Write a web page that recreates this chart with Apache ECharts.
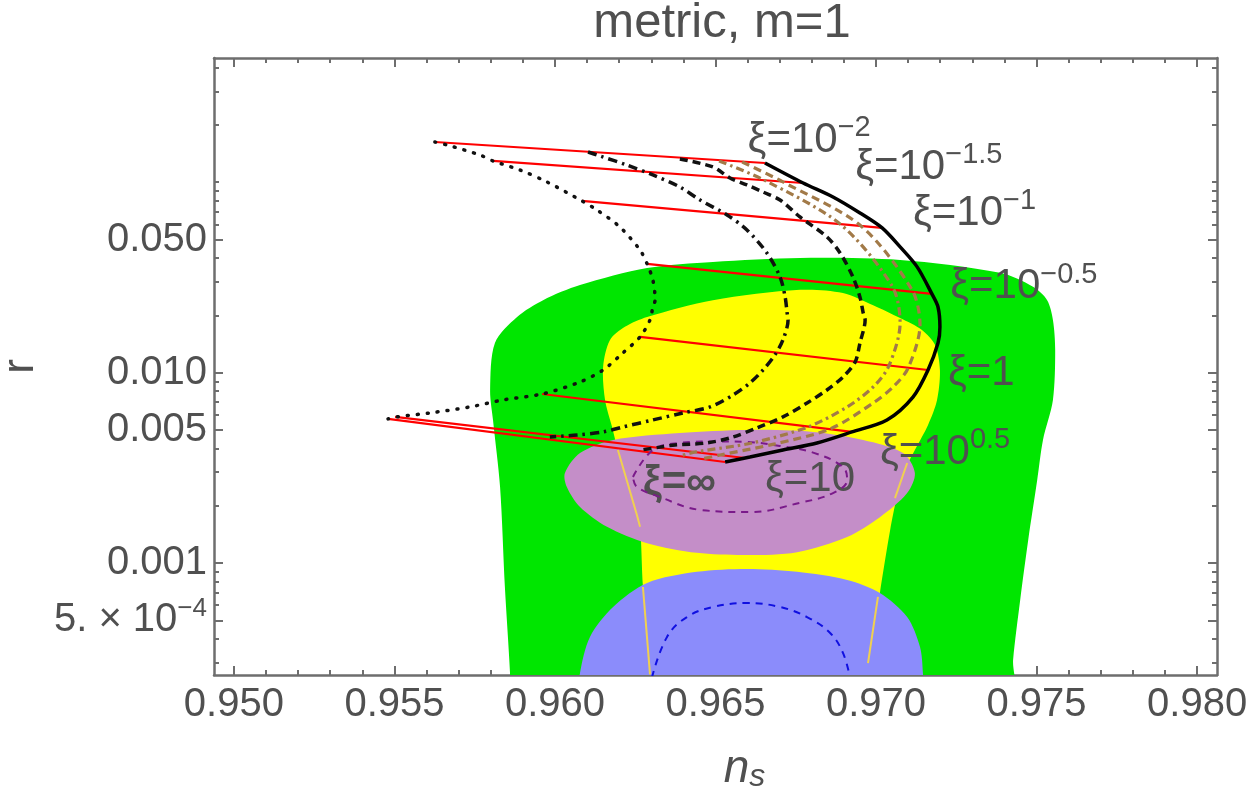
<!DOCTYPE html>
<html><head><meta charset="utf-8">
<script src="https://cdn.jsdelivr.net/npm/echarts@6/dist/echarts.min.js"></script>
<style>html,body{margin:0;padding:0;background:#fff}#chart{width:1249px;height:803px}</style>
</head><body><div id="chart"></div>
<script>
// ---------- axis ranges & ticks ----------
const X_MIN = 0.94938, X_MAX = 0.98062;
const Y_MIN = 2.58e-4, Y_MAX = 0.449;
const xTickMajor = [0.950, 0.955, 0.960, 0.965, 0.970, 0.975, 0.980];
const xTickMinor = [0.951,0.952,0.953,0.954,0.956,0.957,0.958,0.959,0.961,0.962,0.963,0.964,0.966,0.967,0.968,0.969,0.971,0.972,0.973,0.974,0.976,0.977,0.978,0.979];
const yTickMajor = [0.0005, 0.001, 0.005, 0.01, 0.05];
const yTickMinor = [0.0003,0.0004,0.0006,0.0007,0.0008,0.0009,0.002,0.003,0.004,0.006,0.007,0.008,0.009,0.02,0.03,0.04,0.06,0.07,0.08,0.09,0.1,0.2,0.3,0.4];

// ---------- observational regions (ns, r) ----------
const greenRegion = [[0.95862,1.8e-4],[0.95860,2.64e-4],[0.95844,7.48e-4],[0.95829,0.00251],[0.95807,0.00564],[0.95798,0.00811],[0.95813,0.0143],[0.95882,0.0196],[0.95963,0.0240],[0.96078,0.0288],[0.96287,0.0354],[0.96492,0.0381],[0.96763,0.0400],[0.97075,0.0390],[0.97386,0.0334],[0.97489,0.0282],[0.97533,0.0240],[0.97551,0.0189],[0.97558,0.0131],[0.97551,0.00718],[0.97520,0.00443],[0.97502,0.00273],[0.97474,0.00132],[0.97449,6.39e-4],[0.97427,3.10e-4],[0.97420,1.8e-4]];
const yellowRegion = [[0.96298,1.8e-4],[0.96296,2.64e-4],[0.96274,7.48e-4],[0.96265,1.58e-3],[0.96255,1.79e-3],[0.96196,3.92e-3],[0.96178,5.17e-3],[0.96156,7.18e-3],[0.96150,0.0107],[0.96171,0.0148],[0.96218,0.0174],[0.96287,0.0196],[0.96492,0.0240],[0.96763,0.0272],[0.96897,0.0262],[0.96991,0.0226],[0.97075,0.01935],[0.97143,0.01674],[0.97184,0.01396],[0.97199,0.01032],[0.97190,7.18e-3],[0.97162,5.31e-3],[0.97121,3.92e-3],[0.97090,3.08e-3],[0.97065,2.22e-3],[0.97044,1.49e-3],[0.97012,6.96e-4],[0.96975,2.64e-4],[0.96972,1.8e-4]];
const purpleRegion = [[0.96031,2.97e-3],[0.96078,3.78e-3],[0.96181,4.43e-3],[0.96389,4.82e-3],[0.96598,5.00e-3],[0.96804,4.88e-3],[0.96960,4.43e-3],[0.97084,3.78e-3],[0.97121,2.97e-3],[0.97097,2.33e-3],[0.97012,1.74e-3],[0.96910,1.37e-3],[0.96754,1.14e-3],[0.96598,1.10e-3],[0.96442,1.13e-3],[0.96287,1.27e-3],[0.96162,1.55e-3],[0.96078,1.97e-3],[0.96037,2.51e-3]];
const blueRegion = [[0.96072,1.8e-4],[0.96078,2.64e-4],[0.96109,4.09e-4],[0.96181,5.87e-4],[0.96287,7.85e-4],[0.96442,8.98e-4],[0.96598,9.30e-4],[0.96754,8.98e-4],[0.96910,8.14e-4],[0.97012,6.96e-4],[0.97097,5.20e-4],[0.97137,3.62e-4],[0.97146,2.64e-4],[0.97148,1.8e-4]];
const purpleDashed = [[0.96243,2.83e-3],[0.96305,3.92e-3],[0.96389,4.27e-3],[0.96500,4.35e-3],[0.96598,4.32e-3],[0.96700,4.12e-3],[0.96804,3.80e-3],[0.96897,3.19e-3],[0.96910,2.73e-3],[0.96866,2.33e-3],[0.96763,2.07e-3],[0.96607,1.85e-3],[0.96452,1.90e-3],[0.96327,2.22e-3],[0.96255,2.51e-3],[0.96243,2.83e-3]];
const blueDashed = [[0.96302,2.5e-4],[0.96349,4.09e-4],[0.96411,5.20e-4],[0.96492,5.87e-4],[0.96598,6.16e-4],[0.96701,5.87e-4],[0.96785,5.20e-4],[0.96857,4.29e-4],[0.96897,3.37e-4],[0.96919,2.5e-4]];
const yellowEdgeLeftUpper = [[0.96196,3.92e-3],[0.96255,1.79e-3],[0.96265,1.55e-3]];
const yellowEdgeLeftLower = [[0.96274,7.48e-4],[0.96296,2.6e-4]];
const yellowEdgeRightUpper = [[0.97097,3.35e-3],[0.97059,2.19e-3]];
const yellowEdgeRightLower = [[0.97006,6.63e-4],[0.96975,2.98e-4]];

// ---------- model curves (ns, r), from xi = 1e-2 down to xi = infinity ----------
const curveDotted = [[0.95626,0.1626],[0.95664,0.1568],[0.95766,0.1390],[0.95807,0.1293],[0.95891,0.1159],[0.95975,0.1003],[0.96084,0.0797],[0.96131,0.0714],[0.96202,0.0582],[0.96265,0.0440],[0.96287,0.0372],[0.96305,0.0306],[0.96312,0.0241],[0.96305,0.0221],[0.96296,0.0189],[0.96265,0.0154],[0.96212,0.0127],[0.96150,0.01032],[0.96078,0.00892],[0.95960,0.00772],[0.95838,0.00718],[0.95735,0.00660],[0.95611,0.00614],[0.95508,0.00585],[0.95480,0.00571]];
const curveDashDot = [[0.96103,0.1441],[0.96140,0.1373],[0.96224,0.1231],[0.96305,0.1091],[0.96389,0.0944],[0.96452,0.0806],[0.96536,0.0673],[0.96598,0.0561],[0.96660,0.0425],[0.96701,0.0318],[0.96717,0.0249],[0.96723,0.0206],[0.96726,0.0189],[0.96710,0.01483],[0.96685,0.01238],[0.96648,0.01032],[0.96607,0.00882],[0.96555,0.00763],[0.96483,0.00660],[0.96399,0.00614],[0.96305,0.00564],[0.96212,0.00518],[0.96150,0.00488],[0.96069,0.00470],[0.95984,0.00459]];
const curveDashed = [[0.96389,0.1324],[0.96492,0.1202],[0.96545,0.1052],[0.96598,0.0967],[0.96648,0.0888],[0.96701,0.0806],[0.96763,0.0657],[0.96847,0.0516],[0.96888,0.0425],[0.96928,0.0318],[0.96950,0.0249],[0.96960,0.0206],[0.96966,0.0189],[0.96950,0.01430],[0.96935,0.01137],[0.96897,0.00948],[0.96847,0.00810],[0.96785,0.00692],[0.96710,0.00585],[0.96629,0.00512],[0.96555,0.00459],[0.96474,0.00427],[0.96374,0.00417],[0.96327,0.00406],[0.96268,0.00392]];
const curveBrownDashDot = [[0.96511,0.1292],[0.96651,0.1027],[0.96888,0.0603],[0.97050,0.0285],[0.97075,0.0182],[0.97040,0.01083],[0.96991,0.00840],[0.96910,0.00660],[0.96788,0.00518],[0.96614,0.00427],[0.96439,0.00383],[0.96389,0.00365]];
const curveBrownDashed = [[0.96583,0.1277],[0.96710,0.1003],[0.96953,0.0589],[0.97112,0.0272],[0.97137,0.0178],[0.97100,0.01057],[0.97053,0.00840],[0.96991,0.00692],[0.96857,0.00506],[0.96685,0.00422],[0.96514,0.00369],[0.96458,0.00352]];
const curveSolid = [[0.96654,0.1261],[0.96773,0.0990],[0.96866,0.0836],[0.96950,0.0689],[0.97019,0.0575],[0.97075,0.0457],[0.97128,0.0359],[0.97174,0.0259],[0.97193,0.0221],[0.97199,0.01736],[0.97193,0.01430],[0.97162,0.01032],[0.97115,0.00744],[0.97034,0.00564],[0.96925,0.00488],[0.96816,0.00427],[0.96710,0.00392],[0.96607,0.00360],[0.96530,0.00339]];

// equal-xi points on the outer curves (xi = 1e-2, 1e-1.5, 1e-1, 1e-0.5, 1, 1e0.5, 10, inf)
const xiOnDotted = [[0.95626,0.1626],[0.95807,0.1293],[0.96084,0.0797],[0.96287,0.0372],[0.96265,0.0154],[0.95960,0.00772],[0.95502,0.00585],[0.95480,0.00571]];
const xiOnSolid  = [[0.96654,0.1261],[0.96773,0.0990],[0.97019,0.0575],[0.97174,0.0259],[0.97162,0.01032],[0.96925,0.00488],[0.96592,0.00356],[0.96530,0.00339]];

// xi labels
const xiLabelText = ['{m|ξ=10}{s|−2}','{m|ξ=10}{s|−1.5}','{m|ξ=10}{s|−1}','{m|ξ=10}{s|−0.5}','{m|ξ=1}','{m|ξ=10}{s|0.5}','{m|ξ=10}','{b|ξ=∞}'];
const xiLabelAt = [[0.96600,0.1666],[0.96935,0.1202],[0.97115,0.0689],[0.97231,0.0282],[0.97224,0.00995],[0.97012,0.00383],[0.96654,0.00276],[0.96274,0.00263]];

// ---------- styling ----------
const FONT = '"Liberation Sans", Arial, sans-serif';
const TXT = '#505050';
const AX = '#6e6e6e';
const BROWN = '#a27a48';

function xAx(position, ticks, len, main) {
  const a = {
    type: 'value', position, min: X_MIN, max: X_MAX,
    axisLine: {show: main, onZero: false, lineStyle: {color: AX, width: 2.5}},
    axisTick: {show: true, inside: true, length: len, customValues: ticks, lineStyle: {color: AX, width: 2}},
    axisLabel: {show: false},
    splitLine: {show: false}
  };
  if (main && position === 'bottom') {
    a.axisLabel = {show: true, customValues: xTickMajor, formatter: v => v.toFixed(3), color: TXT, fontSize: 40, fontFamily: FONT, margin: 10};
    a.name = '{n|n}{s|s}';
    a.nameLocation = 'middle';
    a.nameGap = 70;
    a.nameTextStyle = {padding: [0, 0, 0, 58], rich: {
      n: {fontSize: 46, fontStyle: 'italic', fontFamily: FONT, color: TXT, lineHeight: 48},
      s: {fontSize: 32, fontStyle: 'italic', fontFamily: FONT, color: TXT, lineHeight: 28, verticalAlign: 'bottom'}
    }};
  }
  return a;
}
function yAx(position, ticks, len, main) {
  const a = {
    type: 'log', logBase: 10, position, min: Y_MIN, max: Y_MAX,
    axisLine: {show: main, lineStyle: {color: AX, width: 2.5}},
    axisTick: {show: true, inside: true, length: len, customValues: ticks, lineStyle: {color: AX, width: 2}},
    axisLabel: {show: false},
    splitLine: {show: false}, minorTick: {show: false}
  };
  if (main && position === 'left') {
    a.axisLabel = {show: true, customValues: yTickMajor, margin: 7,
      formatter: v => v < 0.00099 ? '{a|5. × 10}{e|−4}' : v.toFixed(3),
      color: TXT, fontSize: 40, fontFamily: FONT,
      rich: {a: {fontSize: 40, fontFamily: FONT, color: TXT, lineHeight: 48},
             e: {fontSize: 26, fontFamily: FONT, color: TXT, lineHeight: 20, verticalAlign: 'top'}}};
    a.name = 'r';
    a.nameLocation = 'middle';
    a.nameGap = 170;
    a.nameTextStyle = {fontSize: 44, fontFamily: FONT, color: TXT};
  }
  return a;
}

function polySeries(pts, color) {
  return {
    type: 'custom', clip: true, silent: true, data: pts, encode: {x: 0, y: 1},
    renderItem(params, api) {
      if (params.dataIndex !== 0) return null;
      return {type: 'polygon', shape: {points: pts.map(p => api.coord(p)), smooth: 0.3},
              style: {fill: color, stroke: null}};
    }
  };
}
function lineSeries(pts, color, type, width, smooth, cap) {
  return {type: 'line', data: pts, smooth: smooth, symbol: 'none', silent: true, clip: true,
          lineStyle: {color, type, width, cap: cap || 'butt'}};
}

const redSegments = xiOnDotted.map((p, i) => [p[0], p[1], xiOnSolid[i][0], xiOnSolid[i][1]]);

const series = [
  polySeries(greenRegion, '#00e600'),
  polySeries(yellowRegion, '#ffff00'),
  polySeries(purpleRegion, '#c48ec8'),
  polySeries(blueRegion, '#8b8cfb'),
  lineSeries(yellowEdgeLeftUpper, '#f0d050', 'solid', 2, false),
  lineSeries(yellowEdgeLeftLower, '#f0d050', 'solid', 2, false),
  lineSeries(yellowEdgeRightUpper, '#f0d050', 'solid', 2, false),
  lineSeries(yellowEdgeRightLower, '#f0d050', 'solid', 2, false),
  lineSeries(purpleDashed, '#7a1a8a', [7, 6], 2, 0.4),
  lineSeries(blueDashed, '#1010e0', [7, 6], 2, 0.4),
  {
    type: 'custom', silent: true, clip: true, data: redSegments, encode: {x: [0, 2], y: [1, 3]},
    renderItem(params, api) {
      const a = api.coord([api.value(0), api.value(1)]);
      const b = api.coord([api.value(2), api.value(3)]);
      return {type: 'line', shape: {x1: a[0], y1: a[1], x2: b[0], y2: b[1]},
              style: {stroke: '#ff0000', lineWidth: 2.2}};
    }
  },
  lineSeries(curveDotted, '#111', [1, 9], 3.5, 0.3, 'round'),
  lineSeries(curveDashDot, '#111', [9, 5, 2.5, 5], 3.5, 0.3),
  lineSeries(curveDashed, '#111', [8, 5], 3.5, 0.3),
  lineSeries(curveBrownDashDot, BROWN, [8, 4, 2.5, 4], 3.2, 0.3),
  lineSeries(curveBrownDashed, BROWN, [8, 5], 3.2, 0.3),
  lineSeries(curveSolid, '#000', 'solid', 3.5, 0.3),
  {
    type: 'scatter', symbolSize: 0, silent: true, itemStyle: {opacity: 1},
    data: xiLabelAt.map((p, i) => ({value: p, label: {formatter: xiLabelText[i]}})),
    label: {show: true, position: 'right', distance: 0, color: TXT, opacity: 1,
      rich: {
        m: {fontSize: 42, fontFamily: FONT, color: TXT, lineHeight: 52},
        b: {fontSize: 42, fontFamily: FONT, color: TXT, lineHeight: 52, fontWeight: 'bold'},
        s: {fontSize: 29, fontFamily: FONT, color: TXT, lineHeight: 22, verticalAlign: 'top'}
      }}
  }
];

const option = {
  animation: false,
  backgroundColor: '#fff',
  grid: {left: 214, right: 32, top: 58, bottom: 128, containLabel: false, outerBoundsMode: 'none'},
  xAxis: [xAx('bottom', xTickMajor, 9, true), xAx('bottom', xTickMinor, 5, false),
          xAx('top', xTickMajor, 9, true), xAx('top', xTickMinor, 5, false)],
  yAxis: [yAx('left', yTickMajor, 9, true), yAx('left', yTickMinor, 5, false),
          yAx('right', yTickMajor, 9, true), yAx('right', yTickMinor, 5, false)],
  graphic: [{type: 'text', x: 722, y: 23, silent: true,
    style: {text: 'metric, m=1', font: '49px "Liberation Sans", Arial, sans-serif', fill: TXT,
            align: 'center', verticalAlign: 'middle', textAlign: 'center', textVerticalAlign: 'middle'}}],
  series: series
};
const chart = echarts.init(document.getElementById('chart'), null, {renderer: 'canvas'});
chart.setOption(option);
</script></body></html>
